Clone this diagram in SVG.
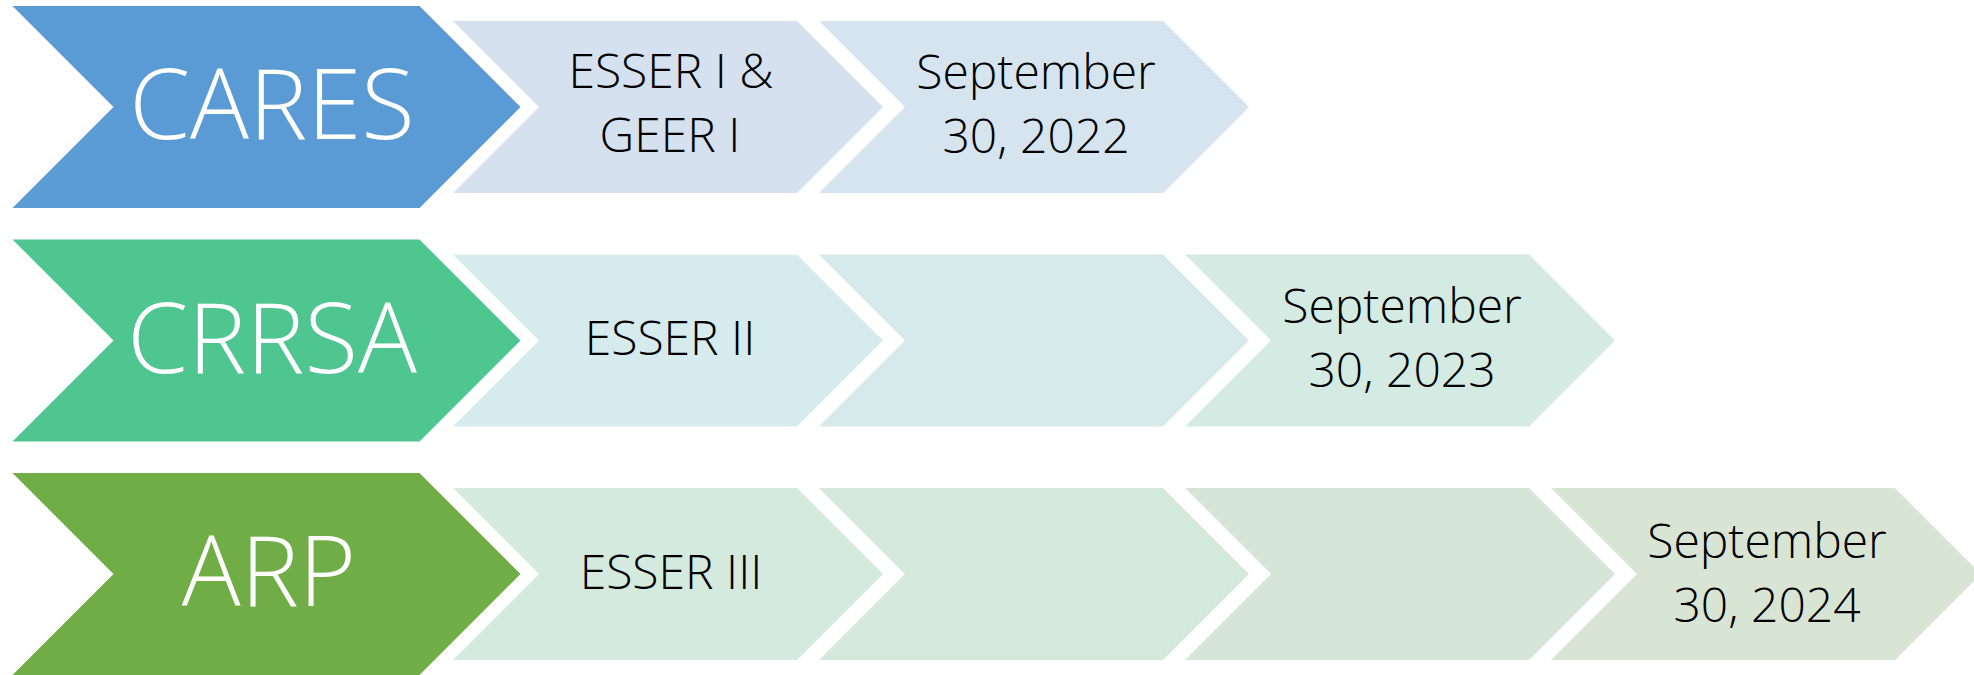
<svg xmlns="http://www.w3.org/2000/svg" width="1974" height="675" viewBox="0 0 1974 675">
<style>
.big{font-family:"Open Sans","Liberation Sans",sans-serif;font-weight:300;font-size:98px;fill:#ffffff;text-anchor:middle}
.sm{font-family:"Open Sans","Liberation Sans",sans-serif;font-weight:300;font-size:48px;fill:#000000;text-anchor:middle}
</style>
<defs>
<polygon id="bigc" points="0,0 407,0 508,101 407,202 0,202 101,101"/>
<polygon id="smc" points="0,0 344,0 430,86 344,172 0,172 86,86"/>
</defs>
<rect width="1974" height="675" fill="#ffffff"/>
<g id="connectors"></g>
<g id="row1">
<g id="cares"><use href="#bigc" x="12.5" y="6" fill="#5B9BD5"/><text class="big" x="272" y="139">CARES</text></g>
<g id="esser1"><use href="#smc" x="453" y="21" fill="#D5E1EF"/><text class="sm" x="671" y="88">ESSER I &amp;</text><text class="sm" x="670" y="152">GEER I</text></g>
<g id="date2022"><use href="#smc" x="819" y="21" fill="#D5E4EE"/><text class="sm" x="1036" y="89">September</text><text class="sm" x="1036" y="153">30, 2022</text></g>
</g>
<g id="row2">
<g id="crrsa"><use href="#bigc" x="12.5" y="239.5" fill="#4FC58F"/><text class="big" x="272" y="372.5">CRRSA</text></g>
<g id="esser2"><use href="#smc" x="453" y="254.5" fill="#D6EBEE"/><text class="sm" x="670" y="355">ESSER II</text></g>
<g id="r2c2"><use href="#smc" x="819" y="254.5" fill="#D6EAEC"/></g>
<g id="date2023"><use href="#smc" x="1185" y="254.5" fill="#D4EBE3"/><text class="sm" x="1402" y="323">September</text><text class="sm" x="1402" y="387">30, 2023</text></g>
</g>
<g id="row3">
<g id="arp"><use href="#bigc" x="12.5" y="473" fill="#70AD47"/><text class="big" x="269" y="606">ARP</text></g>
<g id="esser3"><use href="#smc" x="453" y="488" fill="#D4EADF"/><text class="sm" x="671" y="589">ESSER III</text></g>
<g id="r3c2"><use href="#smc" x="819" y="488" fill="#D4E8DB"/></g>
<g id="r3c3"><use href="#smc" x="1185" y="488" fill="#D5E6D8"/></g>
<g id="date2024"><use href="#smc" x="1551" y="488" fill="#D8E5D4"/><text class="sm" x="1767" y="558">September</text><text class="sm" x="1767" y="622">30, 2024</text></g>
</g>
</svg>
